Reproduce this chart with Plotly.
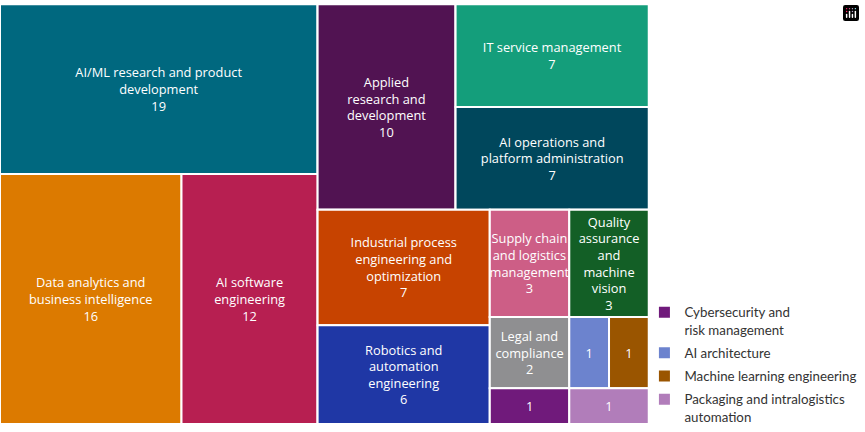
import plotly.graph_objects as go

# leaf tiles
labels = [
    "AI/ML research and product development",
    "Data analytics and business intelligence",
    "AI software engineering",
    "Applied research and development",
    "IT service management",
    "AI operations and platform administration",
    "Industrial process engineering and optimization",
    "Robotics and automation engineering",
    "Supply chain and logistics management",
    "Quality assurance and machine vision",
    "Legal and compliance",
    "AI architecture",
    "Machine learning engineering",
    "Cybersecurity and risk management",
    "Packaging and intralogistics automation",
]
values = [19, 16, 12, 10, 7, 7, 7, 6, 3, 3, 2, 1, 1, 1, 1]
tile_text = [
    "AI/ML research and product<br>development",
    "Data analytics and<br>business intelligence",
    "AI software<br>engineering",
    "Applied<br>research and<br>development",
    "IT service management",
    "AI operations and<br>platform administration",
    "Industrial process<br>engineering and<br>optimization",
    "Robotics and<br>automation<br>engineering",
    "Supply chain<br>and logistics<br>management",
    "Quality<br>assurance<br>and<br>machine<br>vision",
    "Legal and<br>compliance",
    "",
    "",
    "",
    "",
]
colors = [
    "#00687f", "#dc7a00", "#b71f51", "#511352", "#149e7b",
    "#00475c", "#c74300", "#1f37a5", "#cd5e86", "#135f26",
    "#8f8f91", "#6c83ce", "#9a5500", "#701a7b", "#b17dba",
]

# invisible grouping that gives the tile arrangement (ints = leaf index)
tree = {
    "root": ["g_left", "g_right"],
    "g_left": [0, "g_ld"],
    "g_ld": [1, 2],
    "g_right": ["g_rt", "g_rb"],
    "g_rt": [3, "g_rtr"],
    "g_rtr": [4, 5],
    "g_rb": ["g_rbl", "g_rbr"],
    "g_rbl": [6, 7],
    "g_rbr": ["g_row1", "g_row2", "g_row3"],
    "g_row1": [8, 9],
    "g_row2": [10, 11, 12],
    "g_row3": [13, 14],
}

legend_items = [
    ("Cybersecurity and<br>risk management", "#701a7b"),
    ("AI architecture", "#6c83ce"),
    ("Machine learning engineering", "#9a5500"),
    ("Packaging and intralogistics<br>automation", "#b17dba"),
]

ids, parents, vals, texts, cols = [], [], [], [], []


def walk(node, parent):
    if isinstance(node, int):
        ids.append(labels[node])
        parents.append(parent)
        vals.append(values[node])
        t = tile_text[node]
        texts.append((t + "<br>" if t else "") + str(values[node]))
        cols.append(colors[node])
        return values[node]
    pos = len(ids)
    ids.append(node)
    parents.append(parent)
    vals.append(0)
    texts.append("")
    cols.append("#ffffff")
    s = sum(walk(ch, node) for ch in tree[node])
    vals[pos] = s
    return s


walk("root", "")

fig = go.Figure()
fig.add_trace(
    go.Treemap(
        ids=ids,
        labels=ids,
        parents=parents,
        values=vals,
        text=texts,
        textinfo="text",
        branchvalues="total",
        sort=False,
        tiling=dict(packing="slice-dice", pad=0),
        marker=dict(
            colors=cols,
            line=dict(color="white", width=2),
            pad=dict(t=0, l=0, r=0, b=0),
        ),
        pathbar=dict(visible=False),
        textposition="middle center",
        textfont=dict(family="Open Sans", size=13, color="white"),
        hoverinfo="skip",
        domain=dict(x=[0, 0.75], y=[0, 0.99]),
    )
)

for i, (name, c) in enumerate(legend_items):
    fig.add_trace(
        go.Scatter(
            x=[None],
            y=[None],
            mode="markers",
            marker=dict(symbol="square", size=11, color=c),
            name=name,
            legendgroup=str(i),
        )
    )

fig.update_layout(
    width=865,
    height=432,
    margin=dict(l=0, r=0, t=0, b=0),
    paper_bgcolor="white",
    plot_bgcolor="white",
    xaxis=dict(visible=False),
    yaxis=dict(visible=False),
    uniformtext=dict(minsize=12, mode="show"),
    # keep the hover toolbar invisible
    modebar=dict(bgcolor="rgba(0,0,0,0)", color="rgba(0,0,0,0)",
                 activecolor="rgba(0,0,0,0)"),
    legend=dict(
        x=0.745,
        y=0.299,
        xanchor="left",
        yanchor="top",
        valign="top",
        font=dict(family="Lato", size=13.3, color="#333333"),
        itemwidth=30,
        tracegroupgap=3,
        bgcolor="rgba(0,0,0,0)",
    ),
)

# browser body has a default 8px margin; drop it so the chart fills the window
fig.write_html("out.html", post_script="document.body.style.margin='0';")
